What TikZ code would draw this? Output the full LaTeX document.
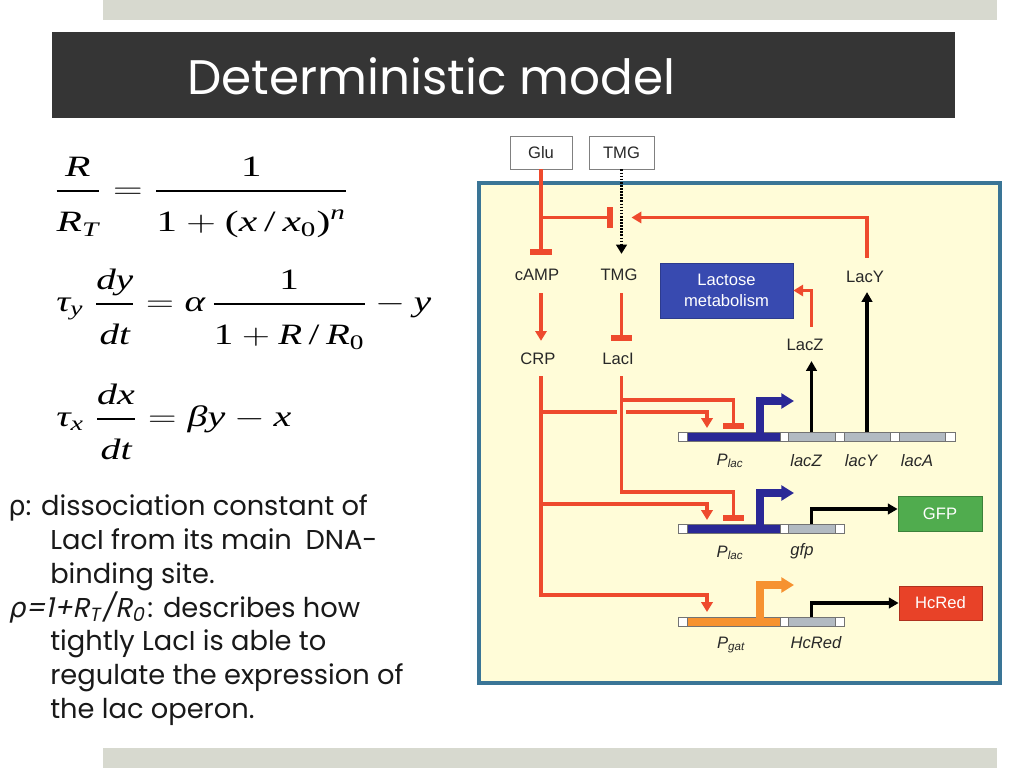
\documentclass[tikz,border=0pt]{standalone}
\usepackage{fontspec}
\usepackage{amsmath}
\usepackage{graphicx}
\usetikzlibrary{arrows.meta,calc}
\setmainfont{Liberation Sans}
\newfontfamily\gothic[ItalicFont=Poppins,ItalicFeatures={FakeSlant=0.2}]{Poppins}
\newfontfamily\grk[ItalicFont=DejaVu Sans,ItalicFeatures={FakeSlant=0.2}]{DejaVu Sans}
\newfontfamily\tnr{Liberation Serif}
\newdimen\PX \PX=0.025cm
\newcommand\mi[1]{\text{\tnr\itshape #1}}
\newcommand\mup[1]{\text{\tnr #1}}
\newcommand\fr[2]{\genfrac{}{}{1.6pt}{0}{#1\rule[-4.7pt]{0pt}{4.7pt}}{\rule{0pt}{23.4pt}#2}}
\definecolor{redl}{RGB}{238,74,45}
\definecolor{promblue}{RGB}{42,40,150}
\definecolor{lacbox}{RGB}{56,74,176}
\definecolor{genegray}{RGB}{178,186,194}
\definecolor{gfpgreen}{RGB}{80,172,78}
\definecolor{hcredc}{RGB}{232,66,40}
\definecolor{promorange}{RGB}{246,146,48}
\definecolor{bgyel}{RGB}{255,252,216}
\definecolor{frameblue}{RGB}{58,117,150}
\definecolor{titlebg}{RGB}{53,53,53}
\definecolor{barg}{RGB}{215,217,207}
\definecolor{lbl}{RGB}{40,40,40}
\tikzset{
 act/.style={draw=redl, line width=2.7pt, -{Triangle[length=7pt,width=8pt]}},
 inh/.style={draw=redl, line width=2.7pt, -{Rectangle[length=4.2pt,width=15.5pt]}},
 prod/.style={draw=black, line width=2.6pt, -{Triangle[length=7pt,width=7.5pt]}},
 dotline/.style={draw=black, line width=2.1pt, dash pattern=on 1.2pt off 1pt, -{Triangle[length=6.5pt,width=7.5pt]}},
 promarr/.style={line width=5.5pt, -{Triangle[length=9pt,width=10.5pt]}},
 lab/.style={font=\fontsize{11.8}{14.5}\selectfont, text=lbl, inner sep=0pt},
 ilab/.style={font=\fontsize{11.8}{14.5}\selectfont\itshape, text=lbl, inner sep=0pt},
 seg/.style={draw=black!55, line width=0.6pt, minimum height=9\PX, inner sep=0pt, outer sep=0pt, anchor=west},
 topbox/.style={draw=black!50, line width=0.7pt, fill=white, minimum width=62\PX, minimum height=33\PX, inner sep=0pt, font=\fontsize{11.8}{14}\selectfont, text=lbl},
 gt/.style={font=\gothic\fontsize{19.4}{23}\selectfont, text=black!90, inner sep=0pt, anchor=base west},
 eqn/.style={font=\fontsize{21}{25}\selectfont, inner sep=0pt, anchor=base west},
}
\begin{document}
\begin{tikzpicture}[x=0.025cm,y=-0.025cm]
\useasboundingbox (0,0) rectangle (1024,768);
\fill[white] (0,0) rectangle (1024,768);
\fill[barg] (103,0) rectangle (997,20);
\fill[barg] (103,748) rectangle (997,768);
\fill[titlebg] (52,32) rectangle (955,118);
\node[anchor=base west, inner sep=0pt, text=white] (title) at (187,95) {\resizebox{488\PX}{!}{\gothic Deterministic model}};

% equations
\node[eqn] (eq1) at (54,198.5) {\resizebox{294\PX}{\height}{$\fr{\mi{R}}{\mi{R}_{\mi{T}}} = \fr{\mup{1}}{\mup{1}+\mup{(}\mi{x}\,\mup{/}\,\mi{x}_{\mup{0}}\mup{)}^{\mi{n}}}$}};
\node[eqn] (eq2) at (56,311.5) {\resizebox{375\PX}{\height}{$\mi{τ}_{\mi{y}}\;\fr{\mi{dy}}{\mi{dt}}=\mi{α}\,\fr{\mup{1}}{\mup{1}+\mi{R}\,\mup{/}\,\mi{R}_{\mup{0}}}-\mi{y}$}};
\node[eqn] (eq3) at (56,426.5) {\resizebox{235\PX}{\height}{$\mi{τ}_{\mi{x}}\;\fr{\mi{dx}}{\mi{dt}}=\mi{β}\mi{y}-\mi{x}$}};

% left text
\node[gt] (t1) at (8,515) {{\grk ρ}: dissociation constant of};
\node[gt] (t2) at (50,549) {LacI from its main\enspace DNA-};
\node[gt] (t3) at (50,583) {binding site.};
\node[gt] (t4) at (8,617) {{\itshape{\grk ρ}=1+R\textsubscript{T}\kern1pt/\kern0.5pt R\textsubscript{0}}\kern2pt: describes how};
\node[gt] (t5) at (50,650) {tightly LacI is able to};
\node[gt] (t6) at (50,684) {regulate the expression of};
\node[gt] (t7) at (50,718) {the lac operon.};

% diagram frame
\draw[frameblue, line width=4\PX, fill=bgyel] (479,183) rectangle (1000,683);

% top boxes
\node[topbox] (glu) at (541,152.5) {Glu};
\node[topbox, minimum width=65\PX] (tmgtop) at (621.5,152.5) {TMG};

% labels
\node[lab] (camp) at (537,275) {cAMP};
\node[lab] (tmgin) at (619,275) {TMG};
\node[lab] (crp) at (538,359) {CRP};
\node[lab] (laci) at (618,359) {LacI};
\node[lab] (laczl) at (805,345) {LacZ};
\node[lab] (lacyl) at (865,277) {LacY};
\node[lab, fill=lacbox, draw=lacbox!80!black, line width=0.5pt, text=white, align=center, minimum width=133\PX, minimum height=55\PX] (lactose) at (726.5,290.5) {Lactose\\metabolism};
\node[lab, fill=gfpgreen, draw=gfpgreen!75!black, line width=0.5pt, text=white, minimum width=84\PX, minimum height=35\PX] (gfpbox) at (940,513.5) {GFP};
\node[lab, fill=hcredc, draw=hcredc!75!black, line width=0.5pt, text=white, minimum width=83\PX, minimum height=34\PX] (hcbox) at (940.5,603) {HcRed};

% row 1
\node[seg, fill=white, minimum width=9\PX] (a0) at (678,436.5) {};
\node[seg, fill=promblue, minimum width=93\PX] (plac1) at (687,436.5) {};
\node[seg, fill=white, minimum width=8\PX] (a1) at (780,436.5) {};
\node[seg, fill=genegray, minimum width=47\PX] (lacz) at (788,436.5) {};
\node[seg, fill=white, minimum width=9\PX] (a2) at (835,436.5) {};
\node[seg, fill=genegray, minimum width=46\PX] (lacy) at (844,436.5) {};
\node[seg, fill=white, minimum width=9\PX] (a3) at (890,436.5) {};
\node[seg, fill=genegray, minimum width=46\PX] (laca) at (899,436.5) {};
\node[seg, fill=white, minimum width=10\PX] (a4) at (945,436.5) {};
% row 2
\node[seg, fill=white, minimum width=9\PX] (b0) at (678,528.5) {};
\node[seg, fill=promblue, minimum width=93\PX] (plac2) at (687,528.5) {};
\node[seg, fill=white, minimum width=8\PX] (b1) at (780,528.5) {};
\node[seg, fill=genegray, minimum width=47\PX] (gfp) at (788,528.5) {};
\node[seg, fill=white, minimum width=9\PX] (b2) at (835,528.5) {};
% row 3
\node[seg, fill=white, minimum width=9\PX] (c0) at (678,621.5) {};
\node[seg, fill=promorange, minimum width=93\PX] (pgat) at (687,621.5) {};
\node[seg, fill=white, minimum width=8\PX] (c1) at (780,621.5) {};
\node[seg, fill=genegray, minimum width=47\PX] (hcred) at (788,621.5) {};
\node[seg, fill=white, minimum width=9\PX] (c2) at (835,621.5) {};

% gene labels
\node[ilab] (lp1) at (730,461) {P\textsubscript{lac}};
\node[ilab] (lzl) at (806,461) {lacZ};
\node[ilab] (lyl) at (861,461) {lacY};
\node[ilab] (lal) at (917,461) {lacA};
\node[ilab] (lp2) at (730,553) {P\textsubscript{lac}};
\node[ilab] (lgl) at (802,551) {gfp};
\node[ilab] (lp3) at (731,645) {P\textsubscript{gat}};
\node[ilab] (lhl) at (816,643) {HcRed};

% connectors
\coordinate (junc) at ($(glu.south)+(0,48)$);
\draw[inh] (glu.south) -- ($(glu.south |- camp.north)+(0,-14)$);
\draw[inh] (junc) -- ($(junc -| tmgtop.south)+(-9,0)$);
\draw[dotline] (tmgtop.south) -- ($(tmgtop.south |- tmgin.north)+(0,-15)$);
\draw[act] ($(lacy.north |- lacyl.north)+(0,-13)$) |- ($(junc -| tmgtop.south)+(10,0)$);
\draw[act] ($(glu.south |- camp.south)+(0,12)$) -- ($(glu.south |- crp.north)+(0,-12)$);
\draw[inh] ($(tmgtop.south |- tmgin.south)+(0,12)$) -- ($(tmgtop.south |- laci.north)+(0,-12)$);
\draw[act] ($(lacz.north |- laczl.north)+(0,-12)$) |- (lactose.east);
\draw[prod] (lacz.north) -- ($(lacz.north |- laczl.south)+(0,10)$);
\draw[prod] (lacy.north) -- ($(lacy.north |- lacyl.south)+(0,9)$);

\coordinate (crpS) at ($(glu.south |- crp.south)+(0,11)$);
\draw[act] (crpS) |- ($(plac1.north west)+(20,-20)$) -- ($(plac1.north west)+(20,-4)$);
\draw[act] (crpS) |- ($(plac2.north west)+(20,-20)$) -- ($(plac2.north west)+(20,-4)$);
\draw[act] (crpS) |- ($(pgat.north west)+(20,-22)$) -- ($(pgat.north west)+(20,-5)$);

\coordinate (laciS) at ($(tmgtop.south |- laci.south)+(0,11)$);
\draw[bgyel, line width=7pt] (laciS) -- ($(laciS)+(0,100)$);
\draw[inh] (laciS) |- ($(plac1.north)+(0,-32)$) -- ($(plac1.north)+(0,-3)$);
\draw[inh] (laciS) |- ($(plac2.north)+(0,-32)$) -- ($(plac2.north)+(0,-3)$);

\draw[promarr, promblue] ($(plac1.north west)+(73,2)$) |- ++(34,-33);
\draw[promarr, promblue] ($(plac2.north west)+(73,2)$) |- ++(34,-33);
\draw[promarr, promorange] ($(pgat.north west)+(73,2)$) |- ++(34,-34);

\draw[prod] (gfp.north) |- ([yshift=4.5\PX]gfpbox.west);
\draw[prod] (hcred.north) |- (hcbox.west);
\end{tikzpicture}
\end{document}
